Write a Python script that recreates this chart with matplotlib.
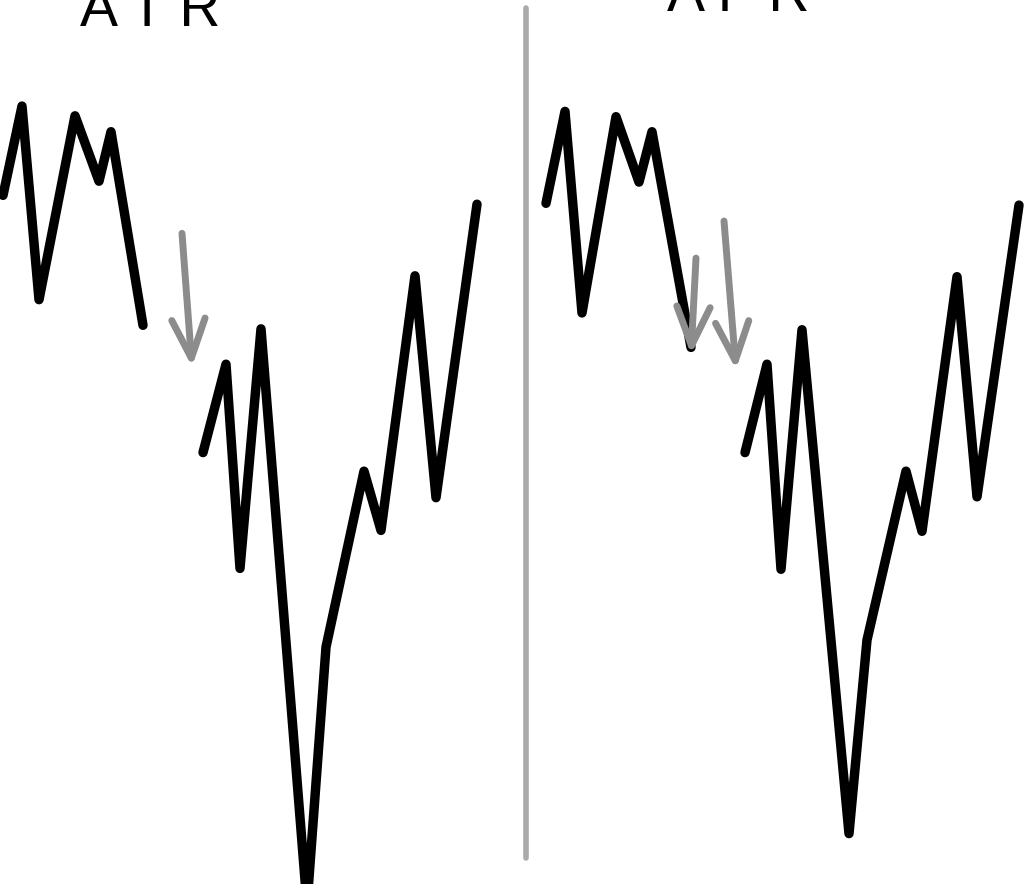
import numpy as np
import matplotlib
matplotlib.use("Agg")
from matplotlib import pyplot as plt
from matplotlib.lines import Line2D

# left panel (A T R): two stretches, NaN = gap
atr_x = [3, 22, 39, 75, 99, 111, 143, np.nan,
         203, 226, 240, 261, 307, 326, 364, 381, 415, 436, 477]
atr_y = [77.9, 88.0, 66.1, 86.9, 79.5, 85.1, 63.2, np.nan,
         48.8, 58.8, 35.7, 62.8, -2.4, 26.8, 46.7, 40.0, 68.8, 43.7, 76.9]

# right panel (A F R)
afr_x = [34, 53, 70, 104, 127, 140, 179, np.nan,
         233, 255, 269, 290, 337, 355, 394, 410, 445, 465, 507]
afr_y = [77.0, 87.4, 64.6, 86.8, 79.4, 85.1, 60.7, np.nan,
         48.8, 58.8, 35.6, 62.7, 5.7, 27.6, 46.7, 39.9, 68.7, 43.8, 76.8]

# gray arrows: (x0, y0, x1, y1)
atr_arrows = [(182, 73.6, 192, 58.5)]
afr_arrows = [(184, 70.8, 179, 59.9), (212, 75.0, 224, 58.2)]

fig = plt.figure(figsize=(10.24, 8.84), dpi=100)
fig.patch.set_facecolor("white")

panels = [
    ([0.0, 0.0, 0.5, 1.0], atr_x, atr_y, atr_arrows),
    ([0.5, 0.0, 0.5, 1.0], afr_x, afr_y, afr_arrows),
]
for rect, xs, ys, arrows in panels:
    ax = fig.add_axes(rect)
    ax.set_xlim(0, 512)
    ax.set_ylim(0, 100)
    ax.axis("off")
    ax.plot(xs, ys, color="black", lw=6.8,
            solid_capstyle="round", solid_joinstyle="round", clip_on=False)
    for x0, y0, x1, y1 in arrows:
        ax.annotate("", xy=(x1, y1), xytext=(x0, y0),
                    arrowprops=dict(arrowstyle="->,head_length=1.4,head_width=0.6",
                                    color="#8c8c8c", lw=5, mutation_scale=20,
                                    shrinkA=0, shrinkB=0, capstyle="round",
                                    joinstyle="round"))

# divider between the panels
fig.add_artist(Line2D([526 / 1024, 526 / 1024], [1 - 8 / 884, 1 - 858 / 884],
                      color="#aaaaaa", lw=4, solid_capstyle="round"))

# titles, cut off by the top edge as in the source
fig.text(150 / 1024, 1 - 26 / 884, "A T R", ha="center", va="baseline",
         fontsize=41, family=["Liberation Sans", "DejaVu Sans"])
fig.text(738 / 1024, 1 - 11 / 884, "A F R", ha="center", va="baseline",
         fontsize=41, family=["Liberation Sans", "DejaVu Sans"])

fig.savefig("out.png", dpi=100, facecolor="white")
